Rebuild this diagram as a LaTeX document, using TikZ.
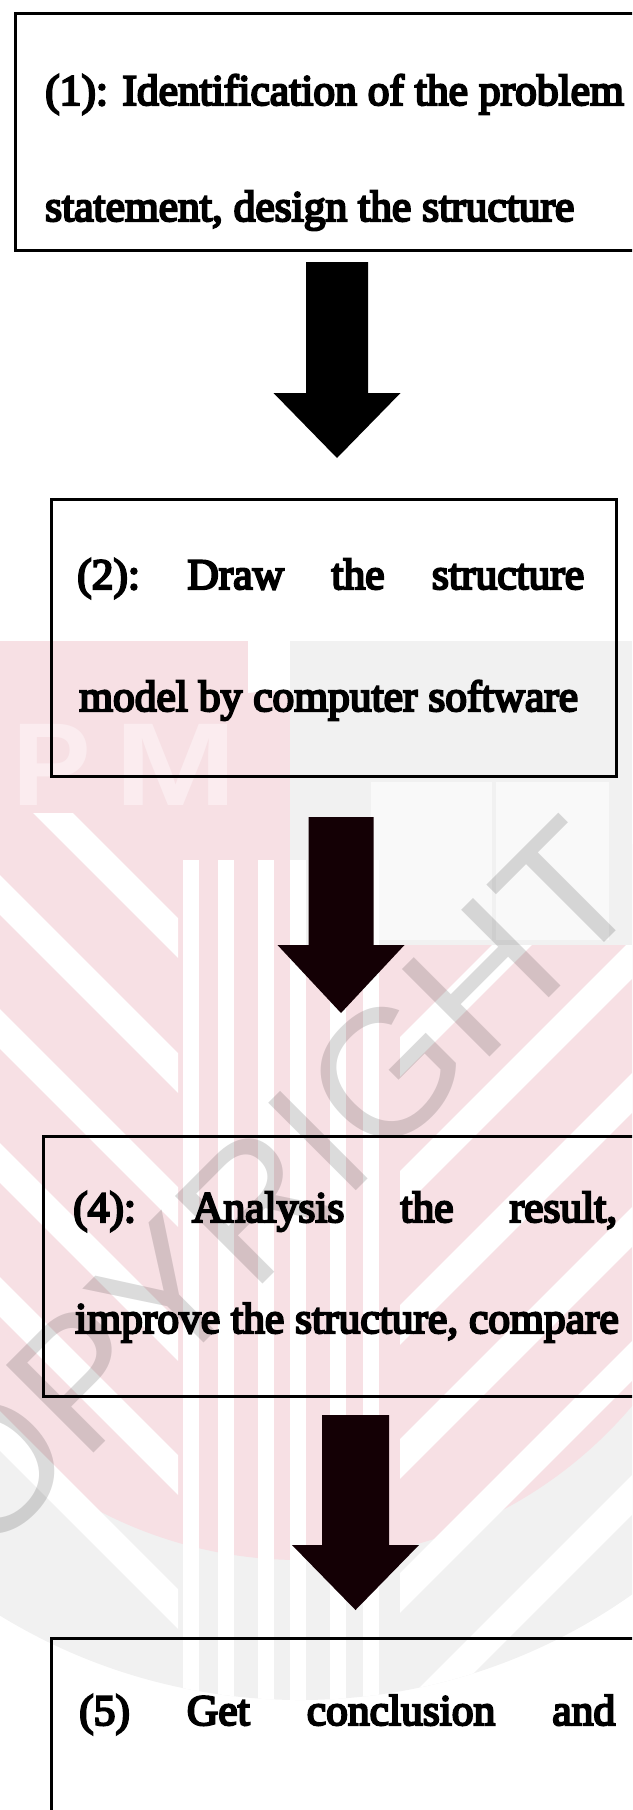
\documentclass[tikz,border=0pt]{standalone}
\usepackage{fontspec}
\setmainfont{Liberation Serif}
\newfontfamily\boxfont{Liberation Serif}[BoldFont={Liberation Serif},BoldFeatures={FakeBold=5}]
\newfontfamily\wmfont{Liberation Sans}
\usetikzlibrary{calc}
\definecolor{wmpink}{RGB}{247,224,228}
\definecolor{wmpinklt}{RGB}{251,236,239}
\definecolor{wmgrey}{RGB}{241,241,241}
\definecolor{arrowdark}{RGB}{20,0,5}
\newcommand\blockarrow[6]{%
  \fill[#1] ($(#2)+(-#4,0)$) -- ($(#2)+(#4,0)$) -- ($(#3)+(#4,-#6)$) -- ($(#3)+(#5,-#6)$)
    -- (#3) -- ($(#3)+(-#5,-#6)$) -- ($(#3)+(-#4,-#6)$) -- cycle;}
\begin{document}
\begin{tikzpicture}[x=1pt,y=-1pt,
  stepbox/.style={draw=black, line width=3pt, anchor=north west, inner sep=0pt},
  steptext/.style={anchor=base west, inner sep=0pt, text=black,
    font=\boxfont\bfseries\fontsize{43.5}{52}\selectfont},
  wmletter/.style={anchor=base west, inner sep=0pt, text=black, text opacity=0.14,
    font=\wmfont\fontsize{180}{180}\selectfont},
  wmband/.style={white, line width=28pt},
  wmstripe/.style={fill=white}]
\useasboundingbox (0,0) rectangle (632,1810);
\clip (0,0) rectangle (632,1810);
% ---------------- watermark ----------------
\begin{scope}
  \clip (0,945) rectangle (632,1810);
  \fill[wmgrey] (300,1125) circle [radius=575pt];
\end{scope}
\fill[wmpink] (300,1125) circle [radius=435pt];
\fill[wmpink] (0,641) rectangle (248,813);
\fill[wmgrey] (290,641) rectangle (632,945);
\fill[white!55!wmgrey] (371,782) rectangle (492,940);
\fill[white!55!wmgrey] (496,782) rectangle (609,940);
\node[anchor=base west, inner sep=0pt, text=wmpinklt, font=\wmfont\bfseries\fontsize{118}{118}\selectfont] (wmP) at (12,805) {P};
\node[anchor=base west, inner sep=0pt, text=wmpinklt, xscale=1.25, font=\wmfont\bfseries\fontsize{118}{118}\selectfont] (wmM) at (114,805) {M};
\begin{scope}
  \clip (300,1125) circle [radius=575pt];
  \begin{scope}
    \clip (0,813) rectangle (178,1810);
    \foreach \c in {760,895,1029,1163,1297,1431} {
      \draw[wmband] (-50,\c-50) -- (400,\c+400);
    }
  \end{scope}
  \begin{scope}
    \clip (400,945) rectangle (632,1810);
    \foreach \c in {825,959,1093,1227,1361,1495} {
      \draw[wmband] (682,\c-50) -- (232,\c+400);
    }
  \end{scope}
  \foreach \s in {183,218,258,290,330,363} {
    \fill[wmstripe] (\s,860) rectangle (\s+16,1720);
  }
\end{scope}
\node[wmletter, rotate=45] (wmtext) at (-108,1655) {COPYRIGHT};
% ---------------- boxes ----------------
\node[stepbox, minimum width=690pt, minimum height=237pt] (b1) at (14,12) {};
\node[stepbox, minimum width=565pt, minimum height=277pt] (b2) at (50,498) {};
\node[stepbox, minimum width=660pt, minimum height=260pt] (b4) at (42,1135) {};
\node[stepbox, minimum width=660pt, minimum height=250pt] (b5) at (50,1637) {};
% ---------------- texts ----------------
\node[steptext] (t1a) at (45,105) {(1): Identification of the problem};
\node[steptext] (t1b) at (45,221) {statement, design the structure};
\node[steptext] (t2a) at (77,589) {\makebox[507pt][s]{(2):\hfill Draw\hfill the\hfill structure}};
\node[steptext] (t2b) at (79,711) {model by computer software};
\node[steptext] (t4a) at (73,1222) {\makebox[544pt][s]{(4):\hfill Analysis\hfill the\hfill result,}};
\node[steptext] (t4b) at (75,1333) {improve the structure, compare};
\node[steptext] (t5a) at (79,1725) {\makebox[536pt][s]{(5)\hfill Get\hfill conclusion\hfill and}};
% ---------------- arrows ----------------
\coordinate (a1top) at (337,262);
\coordinate (a1tip) at (337,458);
\coordinate (a2top) at (341,817);
\coordinate (a2tip) at (341,1013);
\coordinate (a3top) at (355.5,1415);
\coordinate (a3tip) at (355.5,1610);
\blockarrow{black}{a1top}{a1tip}{31}{63.5}{65}
\blockarrow{arrowdark}{a2top}{a2tip}{32.5}{63.5}{68}
\blockarrow{arrowdark}{a3top}{a3tip}{33.5}{63.5}{65}
\end{tikzpicture}
\end{document}
